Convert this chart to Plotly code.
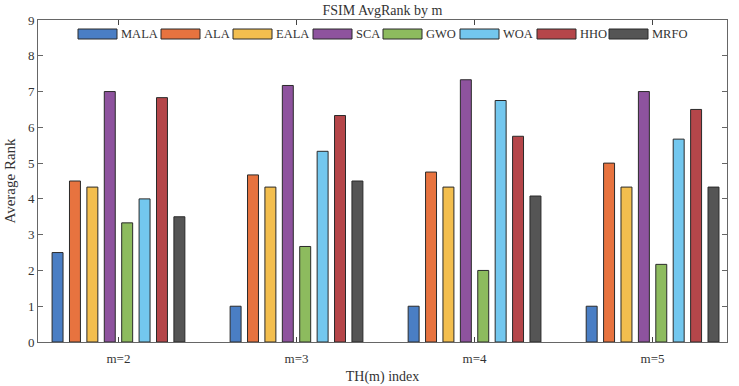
import plotly.graph_objects as go

categories = ["m=2", "m=3", "m=4", "m=5"]
methods = ["MALA", "ALA", "EALA", "SCA", "GWO", "WOA", "HHO", "MRFO"]
MALA = [2.5, 1.0, 1.0, 1.0]
ALA = [4.5, 4.67, 4.75, 5.0]
EALA = [4.33, 4.33, 4.33, 4.33]
SCA = [7.0, 7.17, 7.33, 7.0]
GWO = [3.33, 2.67, 2.0, 2.17]
WOA = [4.0, 5.33, 6.75, 5.67]
HHO = [6.83, 6.33, 5.75, 6.5]
MRFO = [3.5, 4.5, 4.08, 4.33]
series = [MALA, ALA, EALA, SCA, GWO, WOA, HHO, MRFO]

colors = ["#4A7EC4", "#E7733F", "#F3BE4E", "#8E539E", "#8DBB5E", "#73C7EE", "#B5464A", "#555555"]
FONT = "Liberation Serif"
TXT = "#333333"

W, H = 739, 386
ML, MR, MT, MB = 38, 12, 20, 44
PW, PH = W - ML - MR, H - MT - MB

fig = go.Figure()
for name, vals, c in zip(methods, series, colors):
    fig.add_trace(go.Bar(x=categories, y=vals, name=name, marker=dict(color=c, line=dict(color="#2a2a2a", width=1)),
                         showlegend=False))

# custom legend (wide swatches like the reference)
sw_left = [78, 161, 233, 313, 383, 460, 537, 609]
sw_w = 39
shapes = []
annotations = []
def px2x(px):
    return (px - ML) / PW
def py2y(py):
    return (H - MB - py) / PH
for name, c, x0 in zip(methods, colors, sw_left):
    shapes.append(dict(type="rect", xref="paper", yref="paper", x0=px2x(x0), x1=px2x(x0 + sw_w),
                       y0=py2y(39), y1=py2y(29), fillcolor=c, line=dict(color="#2a2a2a", width=1)))
    annotations.append(dict(xref="paper", yref="paper", x=px2x(x0 + sw_w + 2), y=py2y(34), text=name,
                            showarrow=False, xanchor="left", yanchor="middle",
                            font=dict(family=FONT, size=12.5, color=TXT)))

fig.update_layout(
    width=W, height=H,
    margin=dict(l=ML, r=MR, t=MT, b=MB),
    paper_bgcolor="white", plot_bgcolor="white",
    barmode="group", bargap=0.218, bargroupgap=0.37,
    title=dict(text="FSIM AvgRank by m", x=0.5 * (ML + W - MR) / W, xanchor="center", y=1 - 10 / H, yanchor="middle",
               font=dict(family=FONT, size=14, color=TXT)),
    font=dict(family=FONT, size=13, color=TXT),
    shapes=shapes, annotations=annotations,
    xaxis=dict(range=[-0.452, 3.418], showline=True, linecolor="#666666", linewidth=1, mirror="ticks",
               ticks="inside", ticklen=5, tickcolor="#444444", showgrid=False, ticklabelstandoff=4,
               automargin=False,
               tickfont=dict(family=FONT, size=13, color=TXT),
               title=dict(text="TH(m) index", font=dict(family=FONT, size=14, color=TXT), standoff=6)),
    yaxis=dict(range=[0, 9], dtick=1, showline=True, linecolor="#666666", linewidth=1, mirror="ticks",
               ticks="inside", ticklen=5, tickcolor="#666666", showgrid=False, zeroline=False,
               automargin=False,
               tickfont=dict(family=FONT, size=13, color=TXT),
               title=dict(text="Average Rank", font=dict(family=FONT, size=15, color=TXT), standoff=8)),
)
fig.write_html("out.html")
